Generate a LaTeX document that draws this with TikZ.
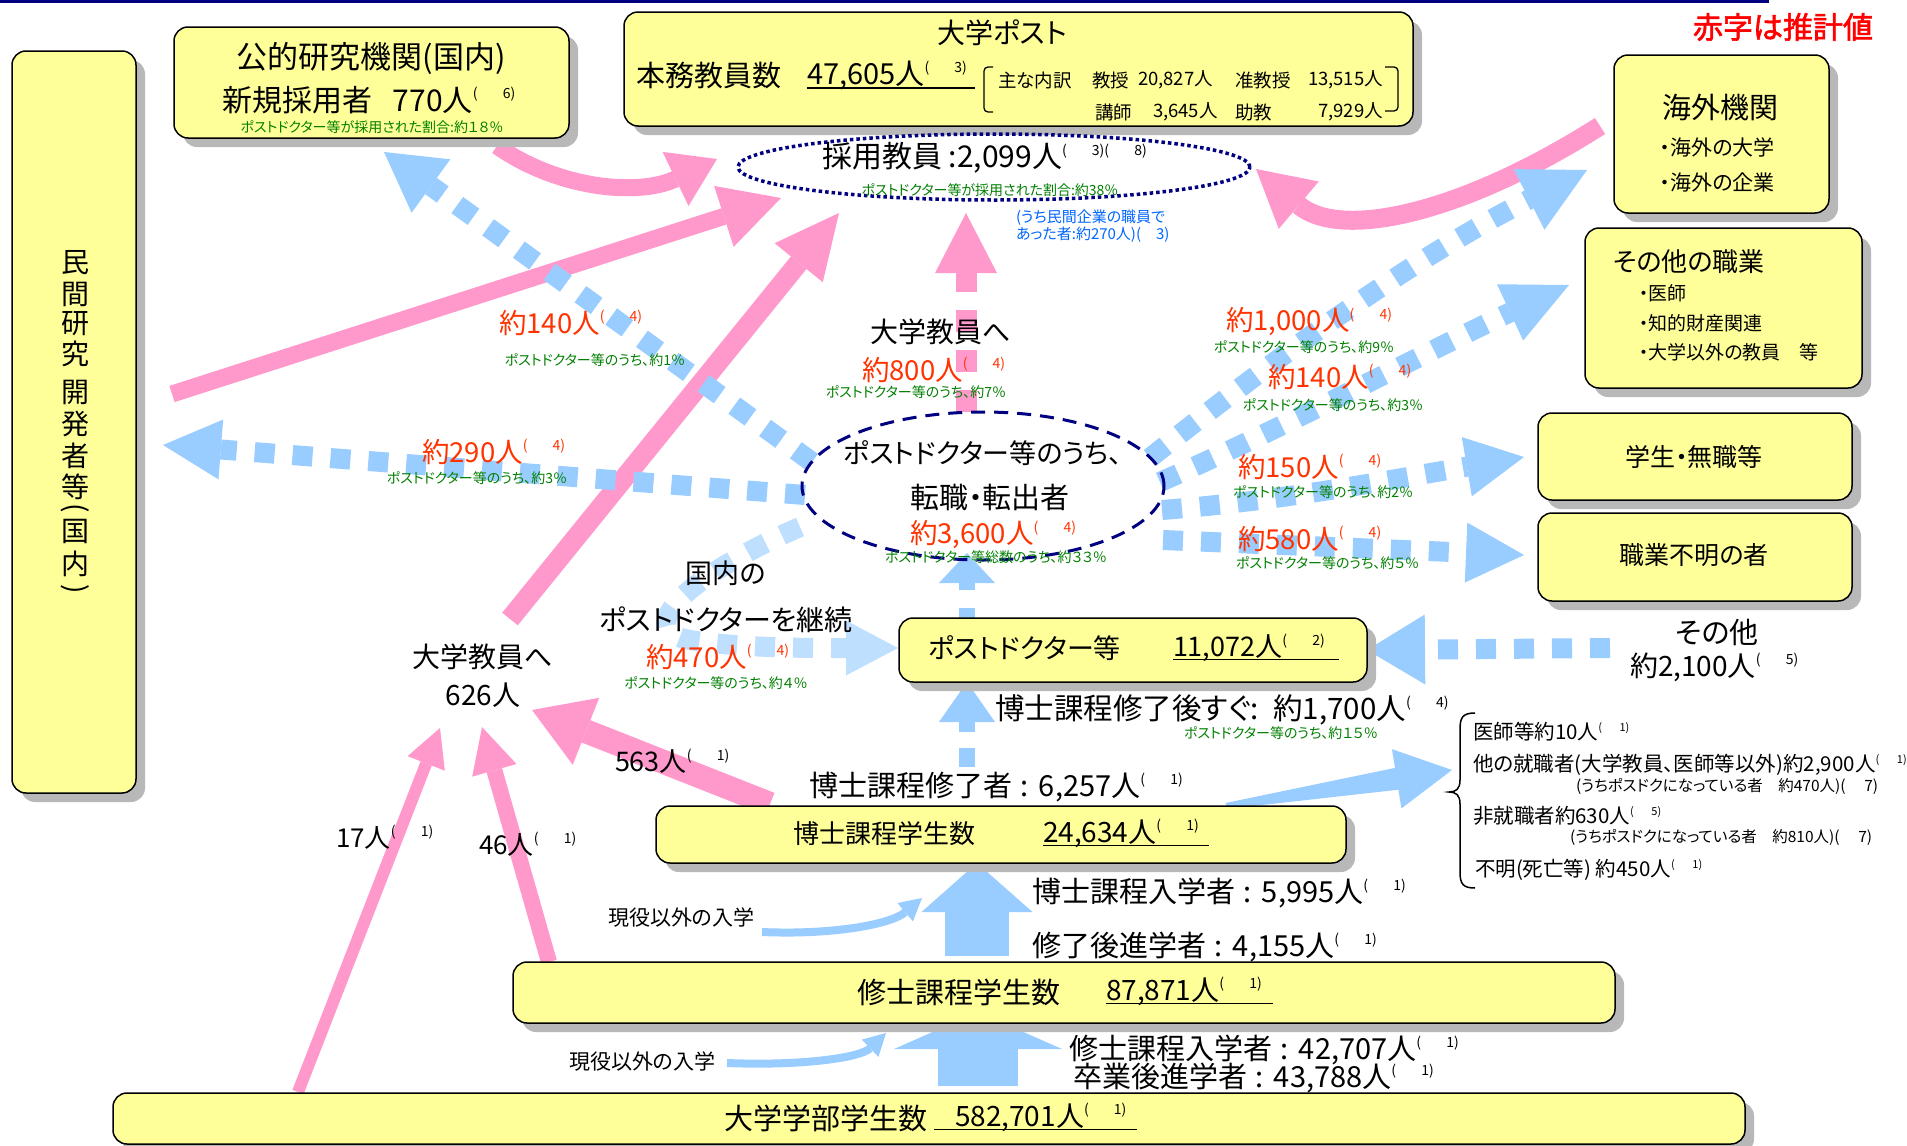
\documentclass[tikz,border=0pt]{standalone}
\usepackage{fontspec}
\setmainfont{Noto Sans CJK JP}[RawFeature=+palt]
\newfontfamily\jpbold{Noto Sans CJK JP}[FakeBold=2,RawFeature=+palt]
\usetikzlibrary{arrows.meta,shapes.geometric,shadows}
\definecolor{boxy}{HTML}{FFFF99}
\definecolor{pinkc}{HTML}{FF99CC}
\definecolor{bluec}{HTML}{99CCFF}
\definecolor{bluelt}{HTML}{BFDFFF}
\definecolor{navyc}{HTML}{000080}
\definecolor{redc}{HTML}{FF3300}
\definecolor{redb}{HTML}{FF0000}
\definecolor{greenc}{HTML}{008000}
\definecolor{bluet}{HTML}{0066FF}
\definecolor{shadowc}{HTML}{B8B8B8}
\newcommand\fsz[1]{\fontsize{#1}{#1}\selectfont}
\newcommand\refn[1]{\raisebox{0.42em}[0pt][0pt]{\fsz{14}(\hspace{1.8em}#1)}}
\newcommand\refm[1]{\raisebox{0.42em}[0pt][0pt]{\fsz{11}(\hspace{1.6em}#1)}}
\newcommand\colsp{\hspace{0.3em}:\hspace{0.35em}}
\begin{document}
\begin{tikzpicture}[x=1pt,y=-1pt,
  every node/.style={inner sep=0pt,outer sep=0pt},
  box/.style={draw=black,line width=1.5pt,fill=boxy,rounded corners=14pt,anchor=north west,
     drop shadow={shadow xshift=9pt,shadow yshift=-9pt,fill=shadowc,opacity=1}},
  tx/.style={font=\fsz{#1},text=black},
  tw/.style={anchor=west,font=\fsz{#1},text=black},
  te/.style={anchor=east,font=\fsz{#1},text=black},
  rnum/.style={anchor=west,font=\fsz{27.5},text=redc},
  grn/.style={font=\fsz{14},text=greenc},
  pk/.style={draw=pinkc,line cap=butt},
  bl/.style={draw=bluec,line cap=butt},
  bdot/.style={bl,line width=20pt,dash pattern=on 20pt off 18pt},
  ul/.style={line width=1.6pt,draw=black},
]
\useasboundingbox (0,0) rectangle (1907,1146);
\fill[white] (0,0) rectangle (1907,1146);

% top rule
\coordinate (tl0) at (0,1.5); \coordinate (tl1) at (1769,1.5);
\draw[navyc,line width=3pt] (tl0) -- (tl1);

% ---------- coordinates of connector ends ----------
\coordinate (pa0) at (497,146); \coordinate (pa1) at (717,159);
\coordinate (pb0) at (172,394); \coordinate (pb1) at (781,198);
\coordinate (pc0) at (510,619); \coordinate (pc1) at (839,213);
\coordinate (pd0) at (966,412); \coordinate (pd1) at (966,213);
\coordinate (pe0) at (1600,126); \coordinate (pe1) at (1256,169);
\coordinate (pf0) at (770,804); \coordinate (pf1) at (532,710);
\coordinate (pg0) at (298,1092); \coordinate (pg1) at (440,728);
\coordinate (ph0) at (549,962); \coordinate (ph1) at (482,727);

\coordinate (b10) at (812,462); \coordinate (b11) at (384,152);
\coordinate (b20) at (805,495); \coordinate (b21) at (163,445);
\coordinate (b30) at (1150,458); \coordinate (b31) at (1587,170);
\coordinate (b40) at (1160,482); \coordinate (b41) at (1569,285);
\coordinate (b50) at (1162,510); \coordinate (b51) at (1524,457);
\coordinate (b60) at (1163,540); \coordinate (b61) at (1524,555);
\coordinate (b70) at (1610,648); \coordinate (b71) at (1367,650);
\coordinate (b80) at (800,527); \coordinate (b81) at (898,648);
\coordinate (b90) at (967,618); \coordinate (b91) at (967,553);
\coordinate (ba0) at (967,767); \coordinate (ba1) at (967,682);
\coordinate (bb0) at (1226,806); \coordinate (bb1) at (1452,770);
\coordinate (bc0) at (977,956); \coordinate (bc1) at (977,863);
\coordinate (bd0) at (978,1086); \coordinate (bd1) at (978,1012);
\coordinate (be0) at (762,932); \coordinate (be1) at (922,898);
\coordinate (bf0) at (727,1063); \coordinate (bf1) at (886,1033);

% ---------- pink arrows ----------
\draw[pk,line width=17pt,-{Triangle[width=60pt,length=46pt,line width=0pt]}] (pa0) .. controls (560,190) and (640,196) .. (pa1);
\draw[pk,line width=17pt,-{Triangle[width=64pt,length=60pt,line width=0pt]}] (pb0) -- (pb1);
\draw[pk,line width=20pt,-{Triangle[width=62pt,length=64pt,line width=0pt]}] (pc0) -- (pc1);
\draw[pk,line width=21pt,dash pattern=on 22pt off 18pt,-{Triangle[width=62pt,length=60pt,line width=0pt]}] (pd0) -- (pd1);
\draw[pk,line width=19pt,-{Triangle[width=62pt,length=56pt,line width=0pt]}] (pe0) .. controls (1460,215) and (1340,240) .. (pe1);
\draw[pk,line width=24pt,-{Triangle[width=72pt,length=58pt,line width=0pt]}] (pf0) -- (pf1);
\draw[pk,line width=12pt,-{Triangle[width=40pt,length=38pt,line width=0pt]}] (pg0) -- (pg1);
\draw[pk,line width=16pt,-{Triangle[width=46pt,length=45pt,line width=0pt]}] (ph0) -- (ph1);

% ---------- blue arrows ----------
\draw[bdot,-{Triangle[width=66pt,length=58pt,line width=0pt]}] (b10) -- (b11);
\draw[bdot,-{Triangle[width=60pt,length=58pt,line width=0pt]}] (b20) -- (b21);
\draw[bdot,-{Triangle[width=68pt,length=65pt,line width=0pt]}] (b30) .. controls (1260,370) and (1400,265) .. (b31);
\draw[bdot,-{Triangle[width=62pt,length=65pt,line width=0pt]}] (b40) .. controls (1290,425) and (1440,345) .. (b41);
\draw[bdot,-{Triangle[width=60pt,length=58pt,line width=0pt]}] (b50) .. controls (1290,500) and (1400,478) .. (b51);
\draw[bdot,-{Triangle[width=60pt,length=58pt,line width=0pt]}] (b60) -- (b61);
\draw[bdot,-{Triangle[width=70pt,length=58pt,line width=0pt]}] (b70) -- (b71);
\draw[bdot,draw=bluelt,-{Triangle[width=55pt,length=52pt,line width=0pt,fill=bluelt]}] (b80) .. controls (690,575) and (630,630) .. (690,640) .. controls (740,648) and (800,648) .. (b81);
\draw[bl,line width=16pt,dash pattern=on 10pt off 18pt,-{Triangle[width=56pt,length=30pt,line width=0pt]}] (b90) -- (b91);
\draw[bl,line width=16pt,dash pattern=on 19pt off 16pt,-{Triangle[width=56pt,length=40pt,line width=0pt]}] (ba0) -- (ba1);
% tapered arrow from the doctoral box to the list on the right
\fill[bluec] (bb0) ++(-0.5,-3) -- (1395,767.9) -- (1392,749.2) -- (bb1) -- (1401.4,808.4) -- (1398.4,789.7) -- (1226.5,809) -- cycle;
\draw[bl,line width=64pt,-{Triangle[width=111pt,length=49pt,line width=0pt]}] (bc0) -- (bc1);
\draw[bl,line width=80pt,-{Triangle[width=168pt,length=37pt,line width=0pt]}] (bd0) -- (bd1);
\draw[bl,line width=8pt,-{Triangle[width=24pt,length=22pt,line width=0pt]}] (be0) .. controls (830,935) and (890,925) .. (be1);
\draw[bl,line width=8pt,-{Triangle[width=24pt,length=22pt,line width=0pt]}] (bf0) .. controls (800,1066) and (860,1058) .. (bf1);

% ---------- boxes ----------
\node[box,minimum width=124pt,minimum height=742pt] (L) at (12,51) {};
\node[box,minimum width=395pt,minimum height=111pt] (K) at (174,27) {};
\node[box,minimum width=789pt,minimum height=114pt] (U) at (624,12) {};
\node[box,minimum width=215pt,minimum height=158pt] (O) at (1614,55) {};
\node[box,minimum width=277pt,minimum height=160pt] (S) at (1585,228) {};
\node[box,minimum width=314pt,minimum height=87pt] (G) at (1538,413) {};
\node[box,minimum width=314pt,minimum height=88pt] (F) at (1538,513) {};
\node[box,minimum width=468pt,minimum height=64pt] (P) at (899,618) {};
\node[box,minimum width=690pt,minimum height=57pt] (D) at (656,806) {};
\node[box,minimum width=1102pt,minimum height=61pt] (M) at (513,962) {};
\node[box,minimum width=1632pt,minimum height=51pt] (B) at (113,1093) {};

% ---------- ellipses ----------
\node[ellipse,draw=navyc,line width=3.5pt,dash pattern=on 3.5pt off 3pt,minimum width=512pt,minimum height=66pt] (E1) at (994,167) {};
\node[ellipse,draw=navyc,line width=3pt,dash pattern=on 14pt off 9pt,minimum width=362pt,minimum height=148pt] (E2) at (983,486) {};

% ---------- left vertical text ----------
\foreach \c/\yy in {民/263,間/294,研/324,究/354,開/392,発/424,者/456,等/487,国/531,内/564}
  \node[tx=28] (v\yy) at (75,\yy) {\c};
\node[tx=28,rotate=-90] (vpo) at (75,508) {(};
\node[tx=28,rotate=-90] (vpc) at (75,589) {)};

% ---------- public research box ----------
\node[tx=31] (kT) at (371,58) {公的研究機関(国内)};
\node[tw=30] (kN) at (222,100) {新規採用者\hspace{0.7em}770人\refn{6}};
\node[grn] (kG) at (372,127) {ポストドクター等が採用された割合:約１８％};

% ---------- university posts ----------
\node[tx=28] (uT) at (1002,33) {大学ポスト};
\node[tw=29] (uN) at (636,76) {本務教員数};
\node[tw=29] (uV) at (807,76) {47,605人\refn{3}};
\draw[ul] ([yshift=-3pt]uV.base west) -- ++(168,0);
\node[tw=18.5] (b1a) at (998,80) {主な内訳};
\node[tw=18.5] (b1b) at (1092,80) {教授};
\node[tw=18.5] (b1c) at (1138,80) {20,827人};
\node[tw=18.5] (b1d) at (1235,80) {准教授};
\node[te=18.5] (b1e) at (1383,80) {13,515人};
\node[tw=18.5] (b2a) at (1095,112) {講師};
\node[tw=18.5] (b2b) at (1153,112) {3,645人};
\node[tw=18.5] (b2c) at (1235,112) {助教};
\node[te=18.5] (b2d) at (1383,112) {7,929人};
\draw[line width=1.3pt,rounded corners=4pt] (993,67) -- (984,67) -- (984,112) -- (993,112);
\draw[line width=1.3pt,rounded corners=4pt] (1385,67) -- (1398,67) -- (1398,111) -- (1385,111);

% ---------- hired faculty ellipse ----------
\node[tw=30] (eT) at (822,158) {採用教員 :2,099人\refn{3}\refn{8}};
\node[grn] (eG) at (990,190) {ポストドクター等が採用された割合:約38％};
\node[anchor=west,font=\fsz{15},text=bluet] (eB1) at (1016,218) {(うち民間企業の職員で};
\node[anchor=west,font=\fsz{15},text=bluet] (eB2) at (1016,235) {あった者:約270人)(\hspace{1em}3)};

% ---------- note ----------
\node[anchor=east,font=\jpbold\fsz{30},text=redb] (note) at (1873,27) {赤字は推計値};

% ---------- overseas / other jobs ----------
\node[tx=29] (oT) at (1720,107) {海外機関};
\node[tw=21] (o1) at (1660,147) {・海外の大学};
\node[tw=21] (o2) at (1660,182) {・海外の企業};
\node[tw=26] (sT) at (1613,262) {その他の職業};
\node[tw=19] (s1) at (1639,293) {・医師};
\node[tw=19] (s2) at (1639,323) {・知的財産関連};
\node[tw=19] (s3) at (1639,352) {・大学以外の教員　等};
\node[tx=25] (gT) at (1694,457) {学生・無職等};
\node[tx=25] (fT) at (1694,555) {職業不明の者};
\node[tx=29] (oth1) at (1717,632) {その他};
\node[tw=28] (oth2) at (1630,667) {約2,100人\refn{5}};

% ---------- postdoc ----------
\node[tw=27] (pT) at (928,648) {ポストドクター等};
\node[tw=27] (pV) at (1173,648) {11,072人\refn{2}};
\draw[ul] ([yshift=-3pt]pV.base west) -- ++(166,0);

% ---------- transfer ellipse ----------
\node[tx=27] (x1) at (983,453) {ポストドクター等のうち、};
\node[tx=29] (x2) at (990,497) {転職・転出者};
\node[rnum] (x3) at (910,535) {約3,600人\refn{4}};
\node[grn] (x4) at (996,557) {ポストドクター等総数のうち、約３３％};

\node[tx=28] (u1) at (941,332) {大学教員へ};
\node[rnum] (u2) at (862,370) {約800人\refn{4}};
\node[grn] (u3) at (916,392) {ポストドクター等のうち、約7％};

\node[rnum] (l1) at (499,323) {約140人\refn{4}};
\node[grn] (l1g) at (595,360) {ポストドクター等のうち、約1％};
\node[rnum] (l2) at (422,452) {約290人\refn{4}};
\node[grn] (l2g) at (477,478) {ポストドクター等のうち、約3％};

\node[rnum] (r1) at (1226,322) {約1,000人\refn{4}};
\node[grn] (r1g) at (1304,347) {ポストドクター等のうち、約9％};
\node[rnum] (r2) at (1268,377) {約140人\refn{4}};
\node[grn] (r2g) at (1333,405) {ポストドクター等のうち、約3％};
\node[rnum] (r3) at (1238,467) {約150人\refn{4}};
\node[grn,anchor=west] (r3g) at (1233,492) {ポストドクター等のうち、約2％};
\node[rnum] (r4) at (1238,539) {約580人\refn{4}};
\node[grn,anchor=west] (r4g) at (1236,563) {ポストドクター等のうち、約５％};

\node[tx=27] (k1) at (726,573) {国内の};
\node[tx=28] (k2) at (726,620) {ポストドクターを継続};
\node[rnum] (k3) at (646,657) {約470人\refn{4}};
\node[grn] (k4) at (716,683) {ポストドクター等のうち、約４％};

\node[tx=28] (f1) at (483,657) {大学教員へ};
\node[tx=28] (f2) at (483,695) {626人};
\node[tw=27] (n563) at (615,762) {563人\refn{1}};
\node[tw=26] (n17) at (336,838) {17人\refn{1}};
\node[tw=26] (n46) at (479,845) {46人\refn{1}};

% ---------- doctoral ----------
\node[tw=29.5] (d1) at (995,710) {博士課程修了後すぐ:\hspace{0.5em}約1,700人\refn{4}};
\node[grn,anchor=west] (d1g) at (1184,733) {ポストドクター等のうち、約１５％};
\node[tw=29] (d2) at (809,787) {博士課程修了者\colsp 6,257人\refn{1}};
\node[tw=26] (dT) at (793,834) {博士課程学生数};
\node[tw=28] (dV) at (1043,834) {24,634人\refn{1}};
\draw[ul] ([yshift=-3pt]dV.base west) -- ++(166,0);
\node[tw=29] (d3) at (1032,893) {博士課程入学者\colsp 5,995人\refn{1}};
\node[tw=29] (d4) at (1032,947) {修了後進学者\colsp 4,155人\refn{1}};
\node[tw=21] (g1) at (608,918) {現役以外の入学};

% ---------- master ----------
\node[tw=29] (mT) at (857,992) {修士課程学生数};
\node[tw=28] (mV) at (1106,992) {87,871人\refn{1}};
\draw[ul] ([yshift=-3pt]mV.base west) -- ++(167,0);
\node[tw=29] (m1) at (1069,1050) {修士課程入学者\colsp 42,707人\refn{1}};
\node[tw=29] (m2) at (1073,1078) {卒業後進学者\colsp 43,788人\refn{1}};
\node[tw=21] (g2) at (569,1062) {現役以外の入学};

% ---------- undergraduate ----------
\node[tw=29] (bT) at (724,1118) {大学学部学生数};
\node[tw=28] (bV) at (955,1118) {582,701人\refn{1}};
\draw[ul] ([yshift=-3pt,xshift=-21pt]bV.base west) -- ++(203,0);

% ---------- right list ----------
\draw[line width=1.5pt] (1475,713) .. controls (1462,713) and (1460,718) .. (1460,730) -- (1460,780)
   .. controls (1460,789) and (1456,792) .. (1449,792) .. controls (1456,792) and (1460,795) .. (1460,804)
   -- (1460,872) .. controls (1460,884) and (1463,888) .. (1475,888);
\node[tw=20.5] (q1) at (1473,732) {医師等約10人\refm{1}};
\node[tw=20.5] (q2) at (1473,765) {他の就職者(大学教員、医師等以外)約2,900人\refm{1}};
\node[tw=15.5] (q3) at (1576,786) {(うちポスドクになっている者　約470人)(\hspace{1.2em}7)};
\node[tw=20.5] (q4) at (1473,816) {非就職者約630人\refm{5}};
\node[tw=15.5] (q5) at (1570,837) {(うちポスドクになっている者　約810人)(\hspace{1.2em}7)};
\node[tw=20.5] (q6) at (1475,870) {不明(死亡等) 約450人\refm{1}};
\end{tikzpicture}
\end{document}
